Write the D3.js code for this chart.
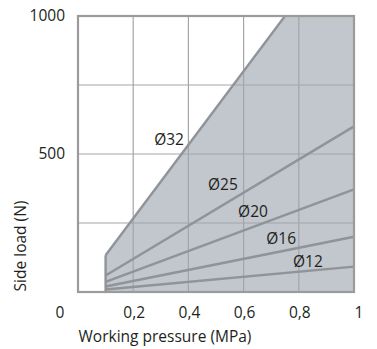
<!DOCTYPE html>
<html><head><meta charset="utf-8">
<script src="https://cdn.jsdelivr.net/npm/d3@7"></script>
<style>body{margin:0;background:#fff}svg{display:block}text{font-family:"Open Sans",sans-serif;fill:#231f20}</style>
</head><body><svg id="c" width="377" height="349"></svg>
<script>
const xTicks = [0.2, 0.4, 0.6, 0.8, 1];
const xTickLabels = ["0,2", "0,4", "0,6", "0,8", "1"];
const yTicks = [500, 1000];
const yGrid = [250, 500, 750];
const xGrid = [0.2, 0.4, 0.6, 0.8];
const seriesNames = ["Ø32", "Ø25", "Ø20", "Ø16", "Ø12"];
const seriesStart = [[0.1, 133], [0.1, 60], [0.1, 37], [0.1, 20], [0.1, 9]];
const seriesEnd = [[0.75, 1000], [1, 600], [1, 372], [1, 200], [1, 92]];
const labelPos = [[0.33, 554], [0.525, 388], [0.634, 293], [0.736, 192], [0.833, 112]];

const svg = d3.select("#c");
const x = d3.scaleLinear().domain([0, 1]).range([78, 354]);
const y = d3.scaleLinear().domain([0, 1000]).range([292, 16]);
const fillC = "#c1c7cc", gridC = "#a3a5a8", lineC = "#909397", frameC = "#9b9b9b";
const fs = 15.5;

const poly = [[0.1, 0], seriesStart[0], seriesEnd[0], [1, 1000], [1, 0]];
svg.append("path").attr("d", d3.line().x(d => x(d[0])).y(d => y(d[1]))(poly) + "Z").attr("fill", fillC);

svg.selectAll(".gx").data(xGrid).join("line").attr("x1", d => x(d)).attr("x2", d => x(d))
  .attr("y1", y(0)).attr("y2", y(1000)).attr("stroke", gridC).attr("stroke-width", 1.2);
svg.selectAll(".gy").data(yGrid).join("line").attr("y1", d => y(d)).attr("y2", d => y(d))
  .attr("x1", x(0)).attr("x2", x(1)).attr("stroke", gridC).attr("stroke-width", 1.2);

svg.selectAll(".sl").data(seriesNames).join("line")
  .attr("x1", (d, i) => x(seriesStart[i][0])).attr("y1", (d, i) => y(seriesStart[i][1]))
  .attr("x2", (d, i) => x(seriesEnd[i][0])).attr("y2", (d, i) => y(seriesEnd[i][1]))
  .attr("stroke", lineC).attr("stroke-width", 2.4);
svg.append("line").attr("x1", x(0.1)).attr("x2", x(0.1)).attr("y1", y(0)).attr("y2", y(seriesStart[0][1]))
  .attr("stroke", lineC).attr("stroke-width", 2.4);

svg.append("rect").attr("x", x(0)).attr("y", y(1000)).attr("width", x(1) - x(0)).attr("height", y(0) - y(1000))
  .attr("fill", "none").attr("stroke", frameC).attr("stroke-width", 2.2);

svg.selectAll(".lb").data(seriesNames).join("text")
  .attr("x", (d, i) => x(labelPos[i][0])).attr("y", (d, i) => y(labelPos[i][1]))
  .attr("text-anchor", "middle").attr("dy", "0.35em").attr("font-size", fs).text(d => d);

svg.selectAll(".xt").data(xTicks).join("text")
  .attr("x", (d, i) => x(d) + (d === 1 ? 5 : 1)).attr("y", 313).attr("dy", "0.35em")
  .attr("text-anchor", "middle").attr("font-size", fs).text((d, i) => xTickLabels[i]);
svg.append("text").attr("x", 60).attr("y", 313).attr("dy", "0.35em").attr("text-anchor", "middle").attr("font-size", fs).text("0");
svg.selectAll(".yt").data(yTicks).join("text")
  .attr("x", 65).attr("y", d => y(d)).attr("dy", "0.35em")
  .attr("text-anchor", "end").attr("font-size", fs).text(d => d);

svg.append("text").attr("x", 165).attr("y", 337).attr("dy", "0.35em").attr("text-anchor", "middle")
  .attr("font-size", fs).text("Working pressure (MPa)");
svg.append("text").attr("transform", "translate(21,246) rotate(-90)").attr("dy", "0.35em").attr("text-anchor", "middle")
  .attr("font-size", fs).text("Side load (N)");
</script></body></html>
